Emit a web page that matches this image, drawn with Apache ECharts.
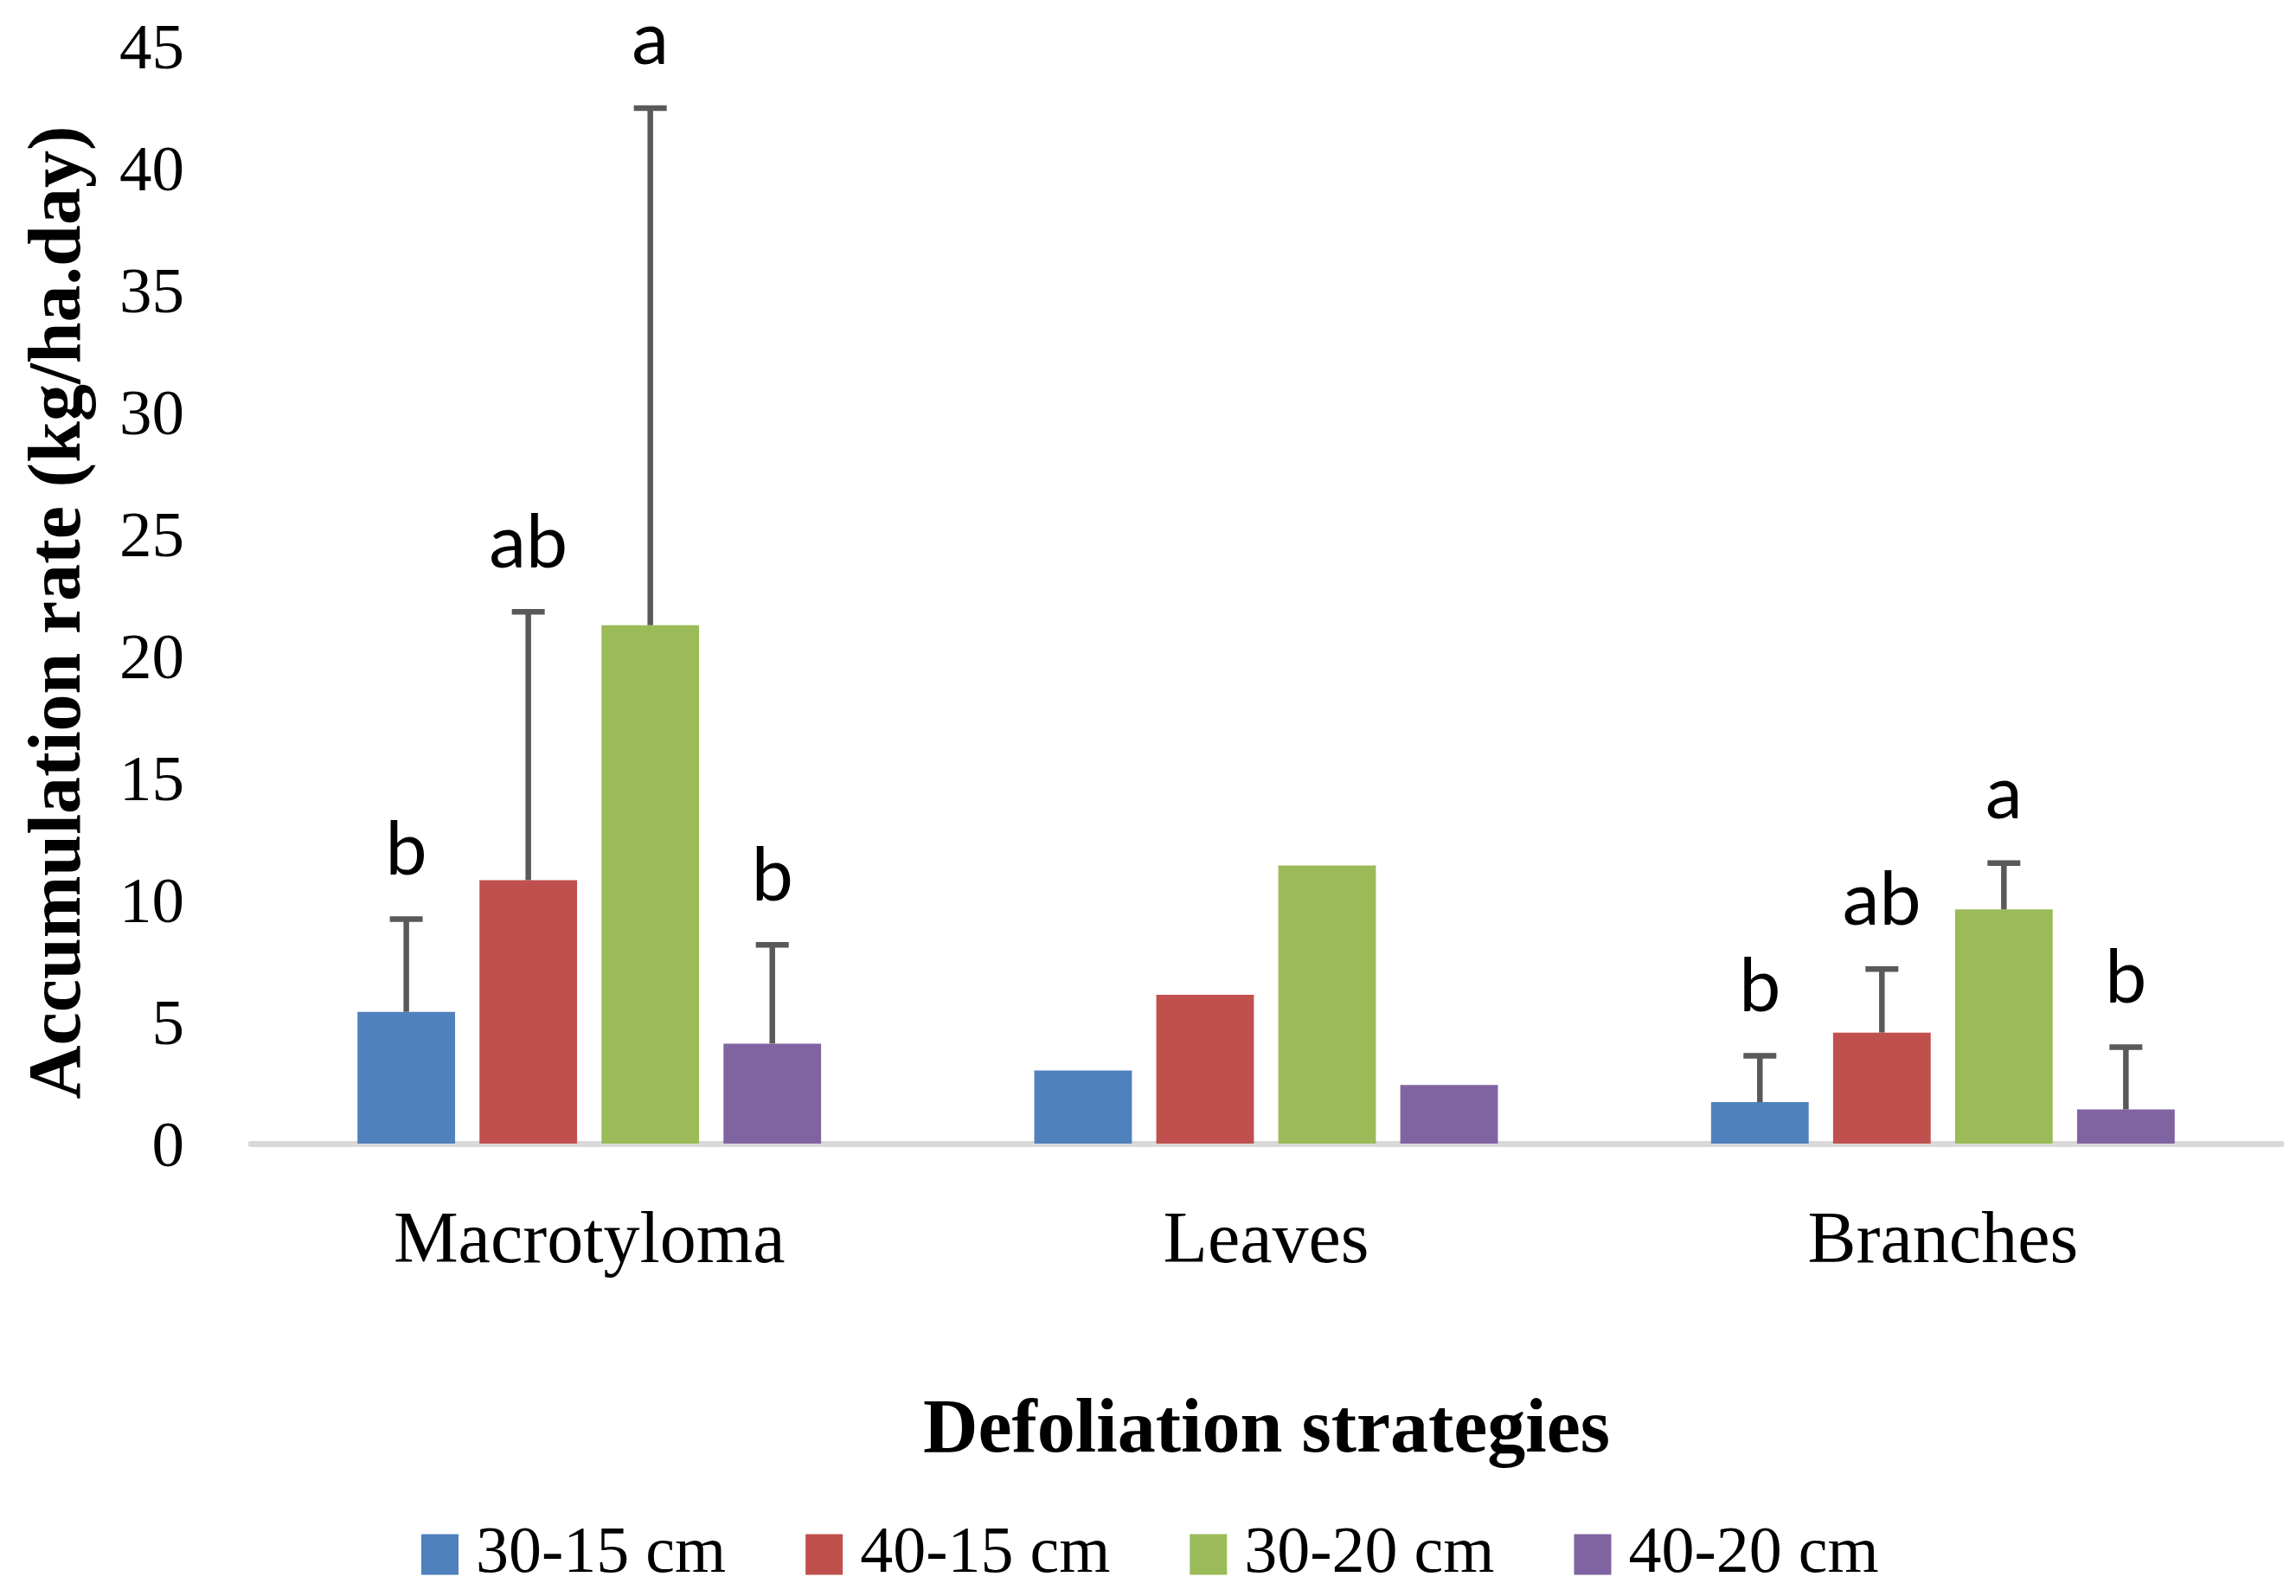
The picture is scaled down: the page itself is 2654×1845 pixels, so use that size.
<!DOCTYPE html>
<html>
<head>
<meta charset="utf-8">
<script src="https://cdn.jsdelivr.net/npm/echarts@6/dist/echarts.min.js"></script>
<style>
html,body{margin:0;padding:0;background:#fff;}
#chart{width:2654px;height:1845px;}
</style>
</head>
<body>
<div id="chart"></div>
<script>
// ---- data ----
const categories = ['Macrotyloma', 'Leaves', 'Branches'];
const seriesNames = ['30-15 cm', '40-15 cm', '30-20 cm', '40-20 cm'];
const s3015 = [5.4, 3.0, 1.7];
const s4015 = [10.8, 6.1, 4.55];
const s3020 = [21.25, 11.4, 9.6];
const s4020 = [4.1, 2.4, 1.4];
// upper error (amount added to bar value); null = no error bar
const err3015 = [3.8, null, 1.9];
const err4015 = [11.0, null, 2.6];
const err3020 = [21.2, null, 1.9];
const err4020 = [4.05, null, 2.55];
// significance letters
const let3015 = ['b', '', 'b'];
const let4015 = ['ab', '', 'ab'];
const let3020 = ['a', '', 'a'];
const let4020 = ['b', '', 'b'];
const yTicks = [0, 5, 10, 15, 20, 25, 30, 35, 40, 45];

// ---- styling ----
const colors = ['#4F81BD', '#C0504D', '#9BBB59', '#8064A2'];
const serif = '"Liberation Serif", "Times New Roman", serif';
const catGap = 0.315, barGapRatio = 0.25, nSeries = 4;

const values = [s3015, s4015, s3020, s4020];
const errs = [err3015, err4015, err3020, err4020];
const letters = [let3015, let4015, let3020, let4020];

const errData = [];
values.forEach((arr, s) => {
  arr.forEach((v, i) => {
    if (errs[s][i] != null) errData.push([i, v, v + errs[s][i], s, letters[s][i]]);
  });
});

const chart = echarts.init(document.getElementById('chart'));
const barSeries = seriesNames.map((name, s) => ({
  name: name,
  type: 'bar',
  data: values[s],
  itemStyle: { color: colors[s] },
  barCategoryGap: (catGap * 100) + '%',
  barGap: (barGapRatio * 100) + '%',
  animation: false
}));

chart.setOption({
  backgroundColor: '#ffffff',
  animation: false,
  grid: { left: 290, right: 17, top: 53, bottom: 523, containLabel: false },
  legend: {
    data: seriesNames,
    left: 482,
    top: 1754,
    icon: 'rect',
    itemWidth: 43,
    itemHeight: 47,
    itemGap: 92,
    textStyle: { fontFamily: serif, fontSize: 76, color: '#000', padding: [0, 0, 0, 15] }
  },
  xAxis: {
    type: 'category',
    data: categories,
    axisLine: { show: true, lineStyle: { color: '#D9D9D9', width: 7 } },
    axisTick: { show: false },
    axisLabel: { fontFamily: serif, fontSize: 84, color: '#000', margin: 73 }
  },
  yAxis: {
    type: 'value',
    min: 0, max: 45, interval: 5,
    axisLine: { show: false },
    axisTick: { show: false },
    splitLine: { show: false },
    axisLabel: { fontFamily: serif, fontSize: 75, color: '#000', margin: 77,
      formatter: v => (yTicks.indexOf(v) >= 0 ? '{t|' + v + '}' : ''),
      rich: { t: { fontFamily: serif, fontSize: 75, color: '#000', padding: [12, 0, 0, 0] } } }
  },
  graphic: [
    { type: 'text', x: 1464, y: 1655,
      style: { text: 'Defoliation strategies', font: 'bold 88px ' + serif, fill: '#000',
               textAlign: 'center', textVerticalAlign: 'middle' } },
    { type: 'text', x: 70, y: 708, rotation: Math.PI / 2,
      style: { text: 'Accumulation rate (kg/ha.day)', font: 'bold 86px ' + serif, fill: '#000',
               textAlign: 'center', textVerticalAlign: 'middle' } }
  ],
  series: barSeries.concat([{
    type: 'custom',
    data: errData,
    z: 10,
    clip: false,
    encode: { x: 0, y: 2 },
    renderItem: function (params, api) {
      const cat = api.value(0);
      const s = api.value(3);
      const letter = errData[params.dataIndex][4];
      const base = api.coord([cat, api.value(1)]);
      const top = api.coord([cat, api.value(2)]);
      const bw = api.size([1, 0])[0];
      const barW = bw * (1 - catGap) / (nSeries + (nSeries - 1) * barGapRatio);
      const x = base[0] + (s - (nSeries - 1) / 2) * barW * (1 + barGapRatio);
      const lineStyle = { stroke: '#595959', lineWidth: 6.5 };
      return {
        type: 'group',
        children: [
          { type: 'line', shape: { x1: x, y1: base[1], x2: x, y2: top[1] }, style: lineStyle },
          { type: 'line', shape: { x1: x - 19, y1: top[1], x2: x + 19, y2: top[1] }, style: lineStyle },
          { type: 'text', x: x, y: top[1] - 36,
            style: { text: letter, font: '86px Lato, "Open Sans", sans-serif', fill: '#000',
                     textAlign: 'center', textVerticalAlign: 'bottom' } }
        ]
      };
    }
  }])
});
</script>
</body>
</html>
